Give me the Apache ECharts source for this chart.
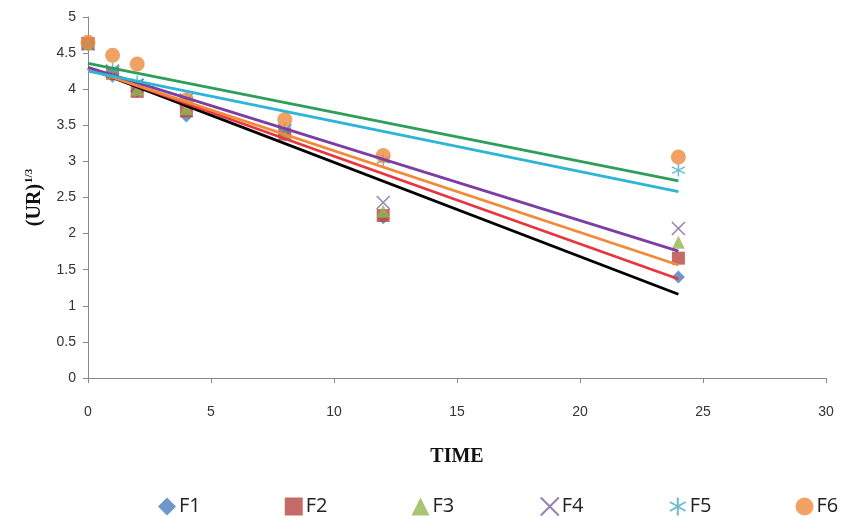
<!DOCTYPE html>
<html><head><meta charset="utf-8">
<script src="https://cdn.jsdelivr.net/npm/echarts@6/dist/echarts.min.js"></script>
<style>html,body{margin:0;padding:0;background:#fff;overflow:hidden}#c{width:843px;height:518px}</style>
</head><body><div id="c"></div>
<script>
const times = [0, 1, 2, 4, 8, 12, 24];
const seriesNames = ['F1', 'F2', 'F3', 'F4', 'F5', 'F6'];
const F1 = [4.62, 4.18, 3.97, 3.63, 3.37, 2.22, 1.40];
const F2 = [4.63, 4.22, 3.97, 3.70, 3.38, 2.25, 1.66];
const F3 = [4.63, 4.23, 4.00, 3.73, 3.40, 2.31, 1.88];
const F4 = [4.63, 4.25, 4.05, 3.85, 3.43, 2.43, 2.07];
const F5 = [4.63, 4.28, 4.10, 3.85, 3.45, 3.02, 2.88];
const F6 = [4.65, 4.47, 4.35, 3.85, 3.58, 3.08, 3.06];
const values = [F1, F2, F3, F4, F5, F6];
const xTicks = [0, 5, 10, 15, 20, 25, 30];
const yTicks = [0, 0.5, 1, 1.5, 2, 2.5, 3, 3.5, 4, 4.5, 5];

const markerColors = ['#4A7EBB', '#B84541', '#93B650', '#7D60A0', '#46AAC5', '#EE8A3C'];
const trendColors = ['#000000', '#E8353F', '#F28A3A', '#7B3FA3', '#2CB5D6', '#2E9E5B'];
const symbols = ['diamond', 'rect', 'triangle',
  'path://M0,0L10,10M10,0L0,10',
  'path://M5,0L5,10M0.7,2.5L9.3,7.5M0.7,7.5L9.3,2.5',
  'circle'];

function regress(xs, ys) {
  const n = xs.length;
  const mx = xs.reduce((a, b) => a + b, 0) / n;
  const my = ys.reduce((a, b) => a + b, 0) / n;
  let sxy = 0, sxx = 0;
  for (let i = 0; i < n; i++) { sxy += (xs[i] - mx) * (ys[i] - my); sxx += (xs[i] - mx) ** 2; }
  const b = sxy / sxx;
  return { a: my - b * mx, b };
}

const series = [];
values.forEach((vals, i) => {
  const isLine = i === 3 || i === 4;
  series.push({
    name: seriesNames[i], type: 'scatter', symbol: symbols[i],
    symbolSize: i === 5 ? 15 : 13, z: 2,
    itemStyle: isLine ? { color: 'none', borderColor: markerColors[i], borderWidth: 1.5 }
                      : { color: markerColors[i] },
    data: times.map((t, k) => [t, vals[k]])
  });
});
values.forEach((vals, i) => {
  const r = regress(times, vals);
  const t0 = times[0], t1 = times[times.length - 1];
  series.push({
    type: 'line', showSymbol: false, silent: true, z: 3,
    lineStyle: { color: trendColors[i], width: 2.8 },
    data: [[t0, r.a + r.b * t0], [t1, r.a + r.b * t1]]
  });
});

const tickFont = { fontFamily: 'Liberation Sans Narrow, Arial Narrow, Liberation Sans, sans-serif', fontSize: 14, color: '#333' };
const chart = echarts.init(document.getElementById('c'));
chart.setOption({
  animation: false,
  backgroundColor: '#fff',
  grid: { left: 88, right: 17, top: 17, bottom: 140, containLabel: false },
  xAxis: {
    type: 'value', min: xTicks[0], max: xTicks[xTicks.length - 1], interval: 5,
    name: 'TIME', nameLocation: 'middle', nameGap: 69,
    nameTextStyle: { fontFamily: 'Liberation Serif, Times New Roman, serif', fontWeight: 'bold', fontSize: 20, color: '#111' },
    axisLine: { lineStyle: { color: '#888', width: 1 } },
    axisTick: { show: true, length: 5, lineStyle: { color: '#888' } },
    axisLabel: Object.assign({ margin: 27 }, tickFont),
    splitLine: { show: false }
  },
  yAxis: {
    type: 'value', min: yTicks[0], max: yTicks[yTicks.length - 1], interval: 0.5,
    name: '{a|(UR)}{b|1/3}', nameLocation: 'middle', nameGap: 43,
    nameTextStyle: {
      rich: {
        a: { fontFamily: 'Liberation Serif, Times New Roman, serif', fontWeight: 'bold', fontSize: 20, color: '#111' },
        b: { fontFamily: 'Liberation Serif, Times New Roman, serif', fontWeight: 'bold', fontSize: 11, color: '#111', padding: [0, 0, 10, 1] }
      }
    },
    axisLine: { show: true, lineStyle: { color: '#888', width: 1 } },
    axisTick: { show: true, length: 5, lineStyle: { color: '#888' } },
    axisLabel: Object.assign({ margin: 12 }, tickFont),
    splitLine: { show: false }
  },
  legend: {
    data: seriesNames, left: 158, top: 495, width: 900, padding: 0, itemGap: 84, itemWidth: 18, itemHeight: 18,
    textStyle: { fontFamily: 'Open Sans, Liberation Sans, sans-serif', fontSize: 20, color: '#222', padding: [0, 0, 0, -2] }
  },
  series: series
});
</script></body></html>
